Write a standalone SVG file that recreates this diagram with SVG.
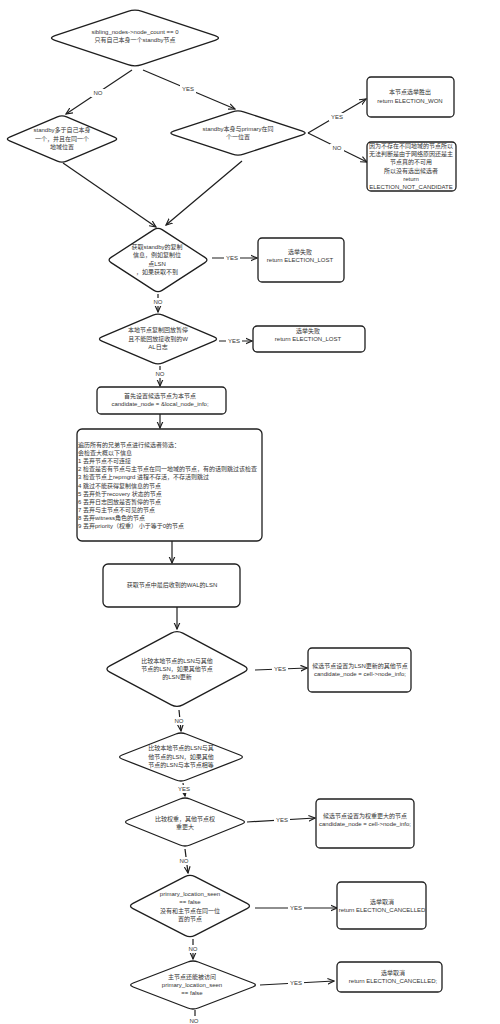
<svg xmlns="http://www.w3.org/2000/svg" width="500" height="1024" viewBox="0 0 500 1024">
<defs>
<marker id="ah" viewBox="0 0 10 10" refX="9" refY="5" markerWidth="6" markerHeight="6" orient="auto-start-reverse">
<path d="M0,1 L9,5 L0,9" fill="none" stroke="#1e1e1e" stroke-width="1.6"/>
</marker>
<style>
.s{fill:#fff;stroke:#1e1e1e;stroke-width:1.3;stroke-linejoin:round}
.t{font-family:"Liberation Sans","Noto Sans CJK SC",sans-serif;font-size:6px;fill:#333;text-anchor:middle}
.l{font-family:"Liberation Sans","Noto Sans CJK SC",sans-serif;font-size:6px;fill:#333}
.c{fill:none;stroke:#1e1e1e;stroke-width:1.2;marker-end:url(#ah)}
.c0{fill:none;stroke:#1e1e1e;stroke-width:1.2}
.lb{font-family:"Liberation Sans","Noto Sans CJK SC",sans-serif;font-size:6px;fill:#333;text-anchor:middle}
.bg{fill:#fff}
</style>
</defs>
<rect width="500" height="1024" fill="#fff"/>

<g id="connectors">
<path class="c" d="M132,70 L66,114"/>
<path class="c" d="M143,70 L235,109"/>
<path class="c" d="M308,133 L366,99"/>
<path class="c" d="M308,133 L367,162"/>
<path class="c" d="M63,163 L156,227"/>
<path class="c" d="M242,161 L166,225"/>
<path class="c" d="M212,258 L257,258"/>
<path class="c" d="M158,294 L158,312"/>
<path class="c" d="M219,341 L252,341"/>
<path class="c" d="M160,366 L160,386"/>
<path class="c" d="M160,414 L160,428"/>
<path class="c" d="M172,541 L172,563"/>
<path class="c" d="M177,607 L177,629"/>
<path class="c" d="M255,670 L307,668"/>
<path class="c" d="M179,710 L181,731"/>
<path class="c" d="M183,783 L185,796"/>
<path class="c" d="M247,822 L315,818"/>
<path class="c" d="M185,849 L188,873"/>
<path class="c" d="M255,908 L337,908"/>
<path class="c" d="M193,939 L193,959"/>
<path class="c" d="M260,985 L334,981"/>
<path class="c0" d="M195,1010 L195,1016"/>
<g>
<rect class="bg" x="91" y="89" width="14" height="8"/><text class="lb" x="98" y="95">NO</text>
<rect class="bg" x="180" y="85" width="16" height="8"/><text class="lb" x="188" y="91">YES</text>
<rect class="bg" x="329" y="113" width="16" height="8"/><text class="lb" x="337" y="119">YES</text>
<rect class="bg" x="330" y="144" width="14" height="8"/><text class="lb" x="337" y="150">NO</text>
<rect class="bg" x="224" y="254" width="16" height="8"/><text class="lb" x="232" y="260">YES</text>
<rect class="bg" x="151" y="298" width="14" height="8"/><text class="lb" x="158" y="304">NO</text>
<rect class="bg" x="226" y="337" width="16" height="8"/><text class="lb" x="234" y="343">YES</text>
<rect class="bg" x="153" y="370" width="14" height="8"/><text class="lb" x="160" y="376">NO</text>
<rect class="bg" x="272" y="665" width="16" height="8"/><text class="lb" x="280" y="671">YES</text>
<rect class="bg" x="172" y="717" width="14" height="8"/><text class="lb" x="179" y="723">NO</text>
<rect class="bg" x="176" y="785" width="16" height="8"/><text class="lb" x="184" y="791">YES</text>
<rect class="bg" x="274" y="816" width="16" height="8"/><text class="lb" x="282" y="822">YES</text>
<rect class="bg" x="177" y="857" width="14" height="8"/><text class="lb" x="184" y="863">NO</text>
<rect class="bg" x="288" y="904" width="16" height="8"/><text class="lb" x="296" y="910">YES</text>
<rect class="bg" x="186" y="945" width="14" height="8"/><text class="lb" x="193" y="951">NO</text>
<rect class="bg" x="288" y="979" width="16" height="8"/><text class="lb" x="296" y="985">YES</text>
<text class="lb" x="194" y="1023">NO</text>
</g>
</g>

<g id="d1">
<path class="s" d="M142 11.3 L215 35.7 Q222 38 215 40.3 L142 64.7 Q135 67 128 64.7 L55 40.3 Q48 38 55 35.7 L128 11.3 Q135 9 142 11.3 Z"/>
<text class="t" x="135" y="34"><tspan x="135">sibling_nodes-&gt;node_count == 0</tspan><tspan x="135" dy="8">只有自己本身一个standby节点</tspan></text>
</g>
<g id="d2">
<path class="s" d="M66.6 116.9 L114.4 137.1 Q119 139 114.4 140.9 L66.6 161.1 Q62 163 57.4 161.1 L9.6 140.9 Q5 139 9.6 137.1 L57.4 116.9 Q62 115 66.6 116.9 Z"/>
<text class="t" x="62" y="132"><tspan x="62">standby多于自己本身</tspan><tspan x="62" dy="8.5">一个，并且在同一个</tspan><tspan x="62" dy="8.5">地域位置</tspan></text>
</g>
<g id="d3">
<path class="s" d="M243.6 111.8 L302.4 131.2 Q308 133 302.4 134.8 L243.6 154.2 Q238 156 232.4 154.2 L173.6 134.8 Q168 133 173.6 131.2 L232.4 111.8 Q238 110 243.6 111.8 Z"/>
<text class="t" x="238" y="131"><tspan x="238">standby本身与primary在同</tspan><tspan x="238" dy="8">个一位置</tspan></text>
</g>
<g id="won">
<rect class="s" x="367" y="77" width="87" height="40" rx="4"/>
<text class="t" x="410" y="94"><tspan x="410">本节点选举胜出</tspan><tspan x="410" dy="9">return ELECTION_WON</tspan></text>
</g>
<g id="notcand">
<rect class="s" x="367" y="142" width="89" height="49" rx="4"/>
<text class="t" x="411" y="148"><tspan x="411">因为不存在不同地域的节点所以</tspan><tspan x="411" dy="8.2">无法判断是由于网络原因还是主</tspan><tspan x="411" dy="8.2">节点真的不可用</tspan><tspan x="411" dy="8.2">所以没有选出候选者</tspan><tspan x="411" dy="8.2">return</tspan><tspan x="411" dy="8.2">ELECTION_NOT_CANDIDATE</tspan></text>
</g>
<g id="d4">
<path class="s" d="M162.1 229.6 L204.9 257.4 Q209 260 204.9 262.6 L162.1 290.4 Q158 293 153.9 290.4 L111.1 262.6 Q107 260 111.1 257.4 L153.9 229.6 Q158 227 162.1 229.6 Z"/>
<text class="t" x="157" y="249"><tspan x="157">获取standby的复制</tspan><tspan x="157" dy="8.3">信息，例如复制位</tspan><tspan x="157" dy="8.3">点LSN</tspan><tspan x="157" dy="8.3">，如果获取不到</tspan></text>
</g>
<g id="lost1">
<rect class="s" x="258" y="238" width="86" height="44" rx="4"/>
<text class="t" x="300" y="254"><tspan x="300">选举失败</tspan><tspan x="300" dy="8">return ELECTION_LOST</tspan></text>
</g>
<g id="d5">
<path class="s" d="M162.9 315.1 L214.1 336.9 Q219 339 214.1 341.1 L162.9 362.9 Q158 365 153.1 362.9 L101.9 341.1 Q97 339 101.9 336.9 L153.1 315.1 Q158 313 162.9 315.1 Z"/>
<text class="t" x="158" y="332"><tspan x="158">本地节点复制回放暂停</tspan><tspan x="158" dy="8.5">且不能回放接收到的W</tspan><tspan x="158" dy="8.5">AL日志</tspan></text>
</g>
<g id="lost2">
<rect class="s" x="253" y="326" width="112" height="26" rx="4"/>
<text class="t" x="308" y="333"><tspan x="308">选举失败</tspan><tspan x="308" dy="7.5">return ELECTION_LOST</tspan></text>
</g>
<g id="cand">
<rect class="s" x="97" y="387" width="129" height="27" rx="4"/>
<text class="t" x="160" y="398"><tspan x="160">首先设置候选节点为本节点</tspan><tspan x="160" dy="8">candidate_node = &amp;local_node_info;</tspan></text>
</g>
<g id="filter">
<rect class="s" x="77" y="429" width="185" height="112" rx="5"/>
<text class="l" x="78" y="447"><tspan x="78">遍历所有的兄弟节点进行候选者筛选：</tspan><tspan x="78" dy="8.1">会检查大概以下信息</tspan><tspan x="78" dy="8.1">1 丢弃节点不可连接</tspan><tspan x="78" dy="8.1">2 检查是否有节点与主节点在同一地域的节点，有的话则跳过该检查</tspan><tspan x="78" dy="8.1">3 检查节点上repmgrd 进程不存活，不存活则跳过</tspan><tspan x="78" dy="8.1">4 跳过不能获得复制信息的节点</tspan><tspan x="78" dy="8.1">5 丢弃处于recovery 状态的节点</tspan><tspan x="78" dy="8.1">6 丢弃日志回放是否暂停的节点</tspan><tspan x="78" dy="8.1">7 丢弃与主节点不可见的节点</tspan><tspan x="78" dy="8.1">8 丢弃witness角色的节点</tspan><tspan x="78" dy="8.1">9 丢弃priority（权重） 小于等于0的节点</tspan></text>
</g>
<g id="wal">
<rect class="s" x="103" y="564" width="137" height="43" rx="5"/>
<text class="t" x="172" y="587">获取节点中最后收到的WAL的LSN</text>
</g>
<g id="d6">
<path class="s" d="M182.8 633.1 L244.2 665.9 Q250 669 244.2 672.1 L182.8 704.9 Q177 708 171.2 704.9 L109.8 672.1 Q104 669 109.8 665.9 L171.2 633.1 Q177 630 182.8 633.1 Z"/>
<text class="t" x="177" y="663"><tspan x="177">比较本地节点的LSN与其他</tspan><tspan x="177" dy="8">节点的LSN，如果其他节点</tspan><tspan x="177" dy="8">的LSN更新</tspan></text>
</g>
<g id="lsnbox">
<rect class="s" x="308" y="648" width="103" height="44" rx="4"/>
<text class="t" x="360" y="668"><tspan x="360">候选节点设置为LSN更新的其他节点</tspan><tspan x="360" dy="8">candidate_node = cell-&gt;node_info;</tspan></text>
</g>
<g id="d7">
<path class="s" d="M186.1 734 L239.9 755 Q245 757 239.9 759 L186.1 780 Q181 782 175.9 780 L122.1 759 Q117 757 122.1 755 L175.9 734 Q181 732 186.1 734 Z"/>
<text class="t" x="181" y="750"><tspan x="181">比较本地节点的LSN与其</tspan><tspan x="181" dy="8.5">他节点的LSN，如果其他</tspan><tspan x="181" dy="8.5">节点的LSN与本节点相等</tspan></text>
</g>
<g id="d8">
<path class="s" d="M190 799 L242 820 Q247 822 242 824 L190 845 Q185 847 180 845 L128 824 Q123 822 128 820 L180 799 Q185 797 190 799 Z"/>
<text class="t" x="185" y="821"><tspan x="185">比较权重，其他节点权</tspan><tspan x="185" dy="8">重更大</tspan></text>
</g>
<g id="weight">
<rect class="s" x="316" y="799" width="98" height="49" rx="4"/>
<text class="t" x="365" y="818"><tspan x="365">候选节点设置为权重更大的节点</tspan><tspan x="365" dy="8">candidate_node = cell-&gt;node_info;</tspan></text>
</g>
<g id="d9">
<path class="s" d="M195 876.6 L247 903.4 Q252 906 247 908.6 L195 935.4 Q190 938 185 935.4 L133 908.6 Q128 906 133 903.4 L185 876.6 Q190 874 195 876.6 Z"/>
<text class="t" x="190" y="896"><tspan x="190">primary_location_seen</tspan><tspan x="190" dy="8">== false</tspan><tspan x="190" dy="8.5">没有和主节点在同一位</tspan><tspan x="190" dy="8">置的节点</tspan></text>
</g>
<g id="canc1">
<rect class="s" x="337" y="882" width="89" height="47" rx="4"/>
<text class="t" x="382" y="904"><tspan x="382">选举取消</tspan><tspan x="382" dy="7.5">return ELECTION_CANCELLED</tspan></text>
</g>
<g id="d10">
<path class="s" d="M198.2 962 L252.8 983 Q258 985 252.8 987 L198.2 1008 Q193 1010 187.8 1008 L133.2 987 Q128 985 133.2 983 L187.8 962 Q193 960 198.2 962 Z"/>
<text class="t" x="192" y="979"><tspan x="192">主节点还能被访问</tspan><tspan x="192" dy="8">primary_location_seen</tspan><tspan x="192" dy="8">== false</tspan></text>
</g>
<g id="canc2">
<rect class="s" x="337" y="962" width="105" height="30" rx="4"/>
<text class="t" x="393" y="975"><tspan x="393">选举取消</tspan><tspan x="393" dy="8">return ELECTION_CANCELLED;</tspan></text>
</g>
</svg>
